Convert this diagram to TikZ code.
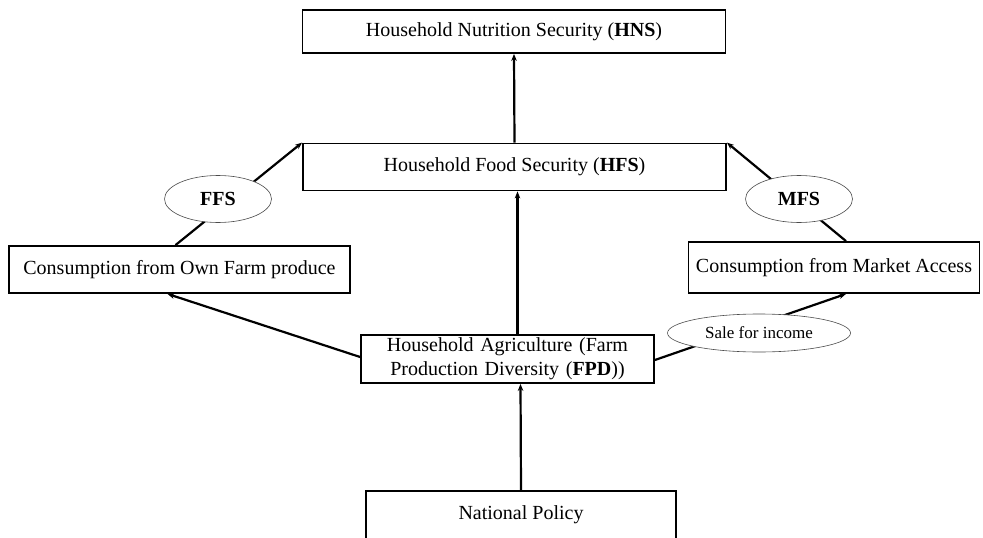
\documentclass[tikz,border=0pt]{standalone}
\usepackage{fontspec}
\setmainfont{Liberation Serif}
\usetikzlibrary{arrows.meta,shapes.geometric,calc}
\begin{document}
\begin{tikzpicture}[x=1pt,y=-1pt,
  box/.style={draw,line width=1.8pt,inner sep=0pt,align=center,font=\fontsize{20}{23}\selectfont},
  oval/.style={draw=black!70,line width=0.6pt,ellipse,fill=white,inner sep=0pt},
  conn/.style={line width=2.2pt},
  arr/.style={conn,-{Stealth[length=7pt,width=5.5pt]}}]
\useasboundingbox (0,0) rectangle (983,538);
\clip (0,0) rectangle (983,538);
\node[box,minimum width=423pt,minimum height=43pt] (hns) at (514,31.5) {Household Nutrition Security (\textbf{HNS})};
\node[box,minimum width=423pt,minimum height=47pt] (hfs) at (514.5,167) {Household Food Security (\textbf{HFS})};
\node[box,minimum width=341pt,minimum height=47pt] (own) at (179.5,269.5) {Consumption from Own Farm produce};
\node[box,minimum width=291pt,minimum height=51pt] (mkt) at (834,267.5) {Consumption from Market Access};
\node[box,minimum width=293pt,minimum height=48pt,text width=285pt,font=\fontsize{20}{24}\selectfont] (fpd) at (507.5,359) {Household Agriculture (Farm\\Production Diversity (\textbf{FPD}))};
\node[box,minimum width=310pt,minimum height=48pt] (nat) at (521,515) {National Policy};

\draw[arr] (hfs.north) -- (hns.south);
\draw[arr] ($(own.north)+(-4,0)$) -- (hfs.north west);
\draw[arr] ($(mkt.north)+(12,0)$) -- (hfs.north east);
\draw[arr] ($(fpd.west)+(0,-2)$) -- ($(own.south)+(-12,0)$);
\draw[arr] ($(fpd.east)+(0,1)$) -- ($(mkt.south)+(12,0)$);
\draw[arr] ($(fpd.north)+(10,0)$) -- ($(hfs.south)+(3,0)$);
\draw[arr] (nat.north) -- ($(fpd.south)+(13,0)$);

\node[oval,minimum width=107pt,minimum height=47pt,font=\fontsize{20}{23}\selectfont\bfseries] (ffs) at (218,199) {FFS};
\node[oval,minimum width=107pt,minimum height=47pt,font=\fontsize{20}{23}\selectfont\bfseries] (mfs) at (799,199) {MFS};
\node[oval,minimum width=183pt,minimum height=38pt,font=\fontsize{17}{20}\selectfont] (sale) at (759,333) {Sale for income};
\end{tikzpicture}
\end{document}
